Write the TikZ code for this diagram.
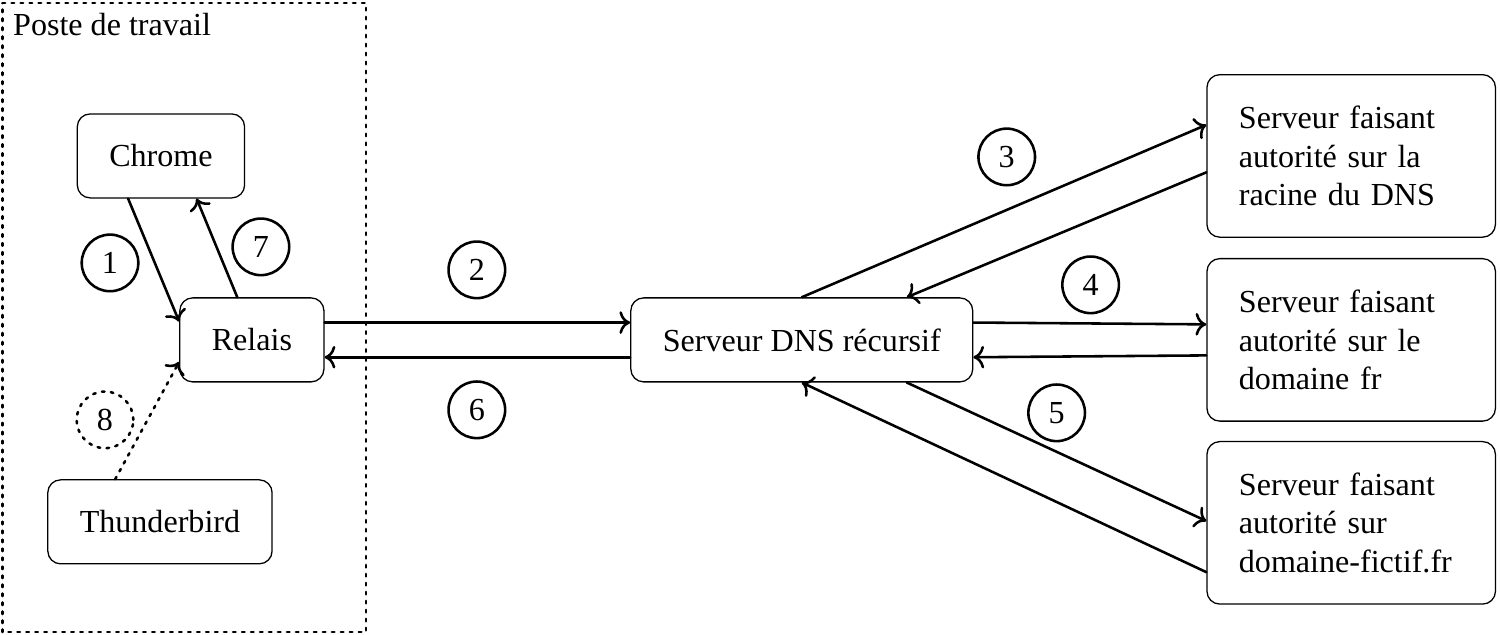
\documentclass[tikz,border=0pt]{standalone}
\usepackage{fontspec}
\setmainfont{Liberation Serif}
\usetikzlibrary{arrows.meta}

\begin{document}
\begin{tikzpicture}[>=To,line cap=round,line join=round,
    box/.style={draw,rounded corners,inner xsep=0.35cm,minimum height=0.92cm},
    authbox/.style={box,text width=2.46cm,align=left,minimum height=1.78cm},
    numlabel/.style={circle,draw,thick,minimum size=0.62cm,inner sep=0pt},
    link/.style={->,thick}]
    \useasboundingbox (0,0) rectangle (16.43,6.953);

    % The workstation frame.
    \draw[dotted,thick] (0.03,0.03) rectangle (4.01,6.92);
    \node[anchor=north west] (poste) at (0.02,6.93) {Poste de travail};

    % The local programs.
    \node[box] (chrome) at (1.763,5.245) {Chrome};
    \node[box] (relais) at (2.759,3.230) {Relais};
    \node[box] (thunderbird) at (1.752,1.237) {Thunderbird};

    % The resolver and the authoritative servers.
    \node[box] (resolveur) at (8.782,3.230) {Serveur DNS récursif};
    \node[authbox] (racine) at (14.80,5.245)
      {Serveur faisant autorité sur la racine du DNS};
    \node[authbox] (tld) at (14.80,3.230)
      {Serveur faisant autorité sur le domaine fr};
    \node[authbox] (fictif) at (14.80,1.226)
      {Serveur faisant autorité sur domaine-fictif.fr};

    % Requests and answers.
    \draw[link] ([xshift=-0.36cm]chrome.south) -- ([yshift=0.2cm]relais.west);
    \draw[link] ([xshift=-0.16cm]relais.north) -- ([xshift=0.39cm]chrome.south);
    \draw[link,dotted] ([xshift=-0.49cm]thunderbird.north)
      -- ([yshift=-0.24cm]relais.west);
    \draw[link] ([yshift=0.19cm]relais.east) -- ([yshift=0.19cm]resolveur.west);
    \draw[link] ([yshift=-0.19cm]resolveur.west) -- ([yshift=-0.19cm]relais.east);
    \draw[link] (resolveur.north) -- ([yshift=0.34cm]racine.west);
    \draw[link] ([yshift=-0.18cm]racine.west) -- ([xshift=1.15cm]resolveur.north);
    \draw[link] ([yshift=0.19cm]resolveur.east) -- ([yshift=0.17cm]tld.west);
    \draw[link] ([yshift=-0.17cm]tld.west) -- ([yshift=-0.19cm]resolveur.east);
    \draw[link] ([xshift=1.15cm]resolveur.south) -- ([yshift=0.02cm]fictif.west);
    \draw[link] ([yshift=-0.54cm]fictif.west) -- (resolveur.south);

    % Step numbers.
    \node[numlabel] (n1) at (1.205,4.073) {1};
    \node[numlabel] (n7) at (2.858,4.249) {7};
    \node[numlabel,dotted] (n8) at (1.150,2.354) {8};
    \node[numlabel] (n2) at (5.223,3.997) {2};
    \node[numlabel] (n6) at (5.223,2.464) {6};
    \node[numlabel] (n3) at (11.027,5.234) {3};
    \node[numlabel] (n4) at (11.946,3.833) {4};
    \node[numlabel] (n5) at (11.574,2.431) {5};
\end{tikzpicture}
\end{document}
